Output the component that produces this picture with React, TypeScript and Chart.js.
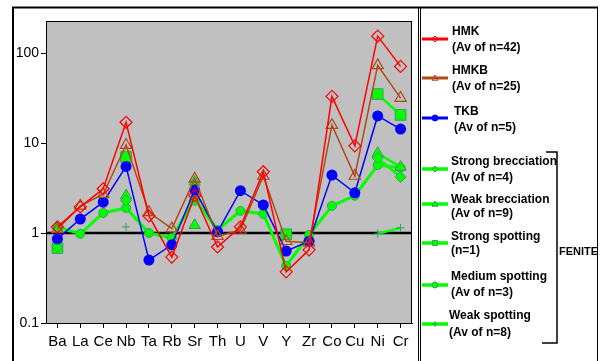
import React, { useEffect, useRef } from 'react';
import { Chart, registerables } from 'chart.js';

Chart.register(...registerables);

const categories = ['Ba', 'La', 'Ce', 'Nb', 'Ta', 'Rb', 'Sr', 'Th', 'U', 'V', 'Y', 'Zr', 'Co', 'Cu', 'Ni', 'Cr'];

const hmk = [1.17, 1.95, 3.1, 17, 1.55, 0.54, 2.6, 0.7, 1.17, 4.8, 0.37, 0.65, 33, 9.3, 154, 71];
const hmkb = [1.1, 2.0, 2.7, 9.5, 1.7, 1.12, 4.0, 0.92, 1.08, 4.3, 0.81, 0.78, 15.8, 4.3, 73, 31.6];
const tkb = [0.86, 1.43, 2.2, 5.5, 0.5, 0.74, 3.0, 1.03, 2.95, 2.05, 0.63, 0.81, 4.4, 2.8, 20, 14.3];
const strongBrecciation = [0.7, null, null, 2.3, null, null, 2.3, null, null, null, null, null, null, null, 6.8, 4.2];
const weakBrecciation = [null, null, null, 2.6, null, null, 3.7, null, null, null, null, null, null, null, 7.7, 5.4];
const weakBrecciationExtra = [null, null, null, null, null, null, 1.22, null, null, null, null, null, null, null, null, null];
const strongSpotting = [0.68, null, null, 7.0, null, null, null, null, null, null, 0.97, null, null, null, 35, 20.5];
const mediumSpotting = [1.17, 0.98, 1.67, 1.9, 1.0, 0.88, 2.4, 1.08, 1.76, 1.63, 0.43, 0.95, 2.0, 2.6, 5.7, 5.3];
const weakSpotting = [null, null, null, 1.17, null, null, null, null, null, null, null, null, null, null, 0.98, 1.14];

const yTickValues = [0.1, 1, 10, 100];
const yTickLabels = ['0.1', '1', '10', '100'];

const legendTitles = ['HMK', 'HMKB', 'TKB', 'Strong brecciation', 'Weak brecciation', 'Strong spotting', 'Medium spotting', 'Weak spotting'];
const legendNotes = ['(Av of n=42)', '(Av of n=25)', '(Av of n=5)', '(Av of n=4)', '(Av of n=9)', '(n=1)', '(Av of n=3)', '(Av of n=8)'];
const groupLabel = 'FENITE';

const RED = '#ff0000';
const BROWN = '#b0481a';
const BLUE = '#0000ff';
const GREEN = '#00ff00';
const GREEN_EDGE = '#3c9c5a';
const FONT = "'Liberation Sans', Arial, sans-serif";

type Marker = { style: string; fill: string; stroke: string; line: string; lw: number };
const legendMarkers: Marker[] = [
  { style: 'rectRot', fill: 'none', stroke: RED, line: RED, lw: 3 },
  { style: 'triangle', fill: 'none', stroke: BROWN, line: BROWN, lw: 3 },
  { style: 'circle', fill: BLUE, stroke: BLUE, line: BLUE, lw: 3 },
  { style: 'rectRot', fill: GREEN, stroke: GREEN_EDGE, line: GREEN, lw: 3.5 },
  { style: 'triangle', fill: GREEN, stroke: GREEN_EDGE, line: GREEN, lw: 3.5 },
  { style: 'rect', fill: GREEN, stroke: GREEN_EDGE, line: GREEN, lw: 3.5 },
  { style: 'circle', fill: GREEN, stroke: GREEN_EDGE, line: GREEN, lw: 3.5 },
  { style: 'cross', fill: 'none', stroke: GREEN_EDGE, line: GREEN, lw: 3.5 },
];
// legend layout: [sampleY, line1Y, line2Y, textX]
const legendRows = [
  [39, 32, 48, 452],
  [78, 71, 87, 452],
  [118, 112, 128, 454],
  [169, 162, 178, 451],
  [204, 200, 214, 451],
  [243, 237, 251, 451],
  [285, 277, 293, 451],
  [324, 316, 333, 449],
];

function drawMarker(ctx: CanvasRenderingContext2D, m: Marker, x: number, y: number, r: number) {
  ctx.save();
  ctx.beginPath();
  if (m.style === 'circle') {
    ctx.arc(x, y, r, 0, Math.PI * 2);
  } else if (m.style === 'rectRot') {
    ctx.moveTo(x, y - r); ctx.lineTo(x + r, y); ctx.lineTo(x, y + r); ctx.lineTo(x - r, y); ctx.closePath();
  } else if (m.style === 'triangle') {
    ctx.moveTo(x, y - r); ctx.lineTo(x + r, y + r * 0.75); ctx.lineTo(x - r, y + r * 0.75); ctx.closePath();
  } else if (m.style === 'rect') {
    ctx.rect(x - r, y - r, 2 * r, 2 * r);
  } else if (m.style === 'cross') {
    ctx.moveTo(x - r, y); ctx.lineTo(x + r, y); ctx.moveTo(x, y - r); ctx.lineTo(x, y + r);
  }
  if (m.fill !== 'none' && m.style !== 'cross') { ctx.fillStyle = m.fill; ctx.fill(); }
  ctx.strokeStyle = m.stroke; ctx.lineWidth = 1; ctx.stroke();
  ctx.restore();
}

const framePlugin = {
  id: 'framePlugin',
  beforeDraw(chart: any) {
    const { ctx, chartArea: a } = chart;
    ctx.save();
    ctx.fillStyle = '#ffffff';
    ctx.fillRect(0, 0, chart.width, chart.height);
    ctx.fillStyle = '#c0c0c0';
    ctx.fillRect(a.left, a.top, a.right - a.left, a.bottom - a.top);
    ctx.restore();
  },
  beforeDatasetsDraw(chart: any) {
    const { ctx, chartArea: a } = chart;
    const y = chart.scales.y.getPixelForValue(1);
    ctx.save();
    ctx.strokeStyle = '#000';
    ctx.lineWidth = 2.5;
    ctx.beginPath();
    ctx.moveTo(a.left, y);
    ctx.lineTo(a.right, y);
    ctx.stroke();
    ctx.restore();
  },
  afterDraw(chart: any) {
    const { ctx, chartArea: a } = chart;
    ctx.save();
    ctx.strokeStyle = '#000';
    ctx.lineWidth = 1;
    ctx.strokeRect(a.left + 0.5, a.top + 0.5, a.right - a.left - 1, a.bottom - a.top);
    // outer frames
    ctx.lineWidth = 2;
    ctx.beginPath();
    ctx.moveTo(12, 7.5); ctx.lineTo(598, 7.5);
    ctx.moveTo(13, 7); ctx.lineTo(13, 361);
    ctx.stroke();
    ctx.lineWidth = 1;
    ctx.beginPath();
    ctx.moveTo(418.5, 8); ctx.lineTo(418.5, 361);
    ctx.moveTo(420.5, 8); ctx.lineTo(420.5, 361);
    ctx.moveTo(597.5, 8); ctx.lineTo(597.5, 361);
    ctx.stroke();
    // legend
    legendRows.forEach((row, i) => {
      const [sy, y1, y2, tx] = row;
      const m = legendMarkers[i];
      ctx.strokeStyle = m.line;
      ctx.lineWidth = m.lw;
      ctx.beginPath();
      ctx.moveTo(422, sy); ctx.lineTo(448, sy);
      ctx.stroke();
      drawMarker(ctx, m, 435, sy, m.style === 'rect' ? 2.5 : 3);
      ctx.fillStyle = '#000';
      ctx.font = `bold 12px ${FONT}`;
      ctx.textBaseline = 'middle';
      ctx.textAlign = 'left';
      ctx.fillText(legendTitles[i], tx, y1);
      ctx.fillText(legendNotes[i], tx, y2);
    });
    // bracket
    ctx.strokeStyle = '#000';
    ctx.lineWidth = 1.5;
    ctx.beginPath();
    ctx.moveTo(546, 152); ctx.lineTo(557, 152); ctx.lineTo(557, 343); ctx.lineTo(542, 343);
    ctx.stroke();
    ctx.font = `bold 11px ${FONT}`;
    ctx.fillStyle = '#000';
    ctx.textBaseline = 'middle';
    ctx.fillText(groupLabel, 559, 252);
    ctx.restore();
  },
};

export default function App() {
  const ref = useRef<HTMLCanvasElement>(null);
  useEffect(() => {
    if (!ref.current) return;
    const greenPt = (style: string, r: number) => ({
      borderColor: GREEN,
      borderWidth: 2.5,
      pointStyle: style,
      pointRadius: r,
      pointBackgroundColor: GREEN,
      pointBorderColor: GREEN_EDGE,
      pointBorderWidth: 1,
    });
    const chart = new Chart(ref.current, {
      type: 'line',
      data: {
        labels: categories,
        datasets: [
          { label: 'HMK', data: hmk, borderColor: RED, borderWidth: 1.5, pointStyle: 'rectRot', pointRadius: 6, pointBackgroundColor: 'rgba(0,0,0,0)', pointBorderColor: RED, pointBorderWidth: 1.2 },
          { label: 'HMKB', data: hmkb, borderColor: BROWN, borderWidth: 1.5, pointStyle: 'triangle', pointRadius: 6.5, pointBackgroundColor: 'rgba(0,0,0,0)', pointBorderColor: BROWN, pointBorderWidth: 1.2 },
          { label: 'TKB', data: tkb, borderColor: BLUE, borderWidth: 1.5, pointStyle: 'circle', pointRadius: 5.5, pointBackgroundColor: BLUE, pointBorderColor: BLUE, pointBorderWidth: 0 },
          { label: 'Strong brecciation', data: strongBrecciation, ...greenPt('rectRot', 5.5) },
          { label: 'Weak brecciation', data: weakBrecciation, ...greenPt('triangle', 6.5) },
          { label: 'Weak brecciation (2)', data: weakBrecciationExtra, ...greenPt('triangle', 6.5) },
          { label: 'Strong spotting', data: strongSpotting, ...greenPt('rect', 7.5) },
          { label: 'Medium spotting', data: mediumSpotting, ...greenPt('circle', 4.5), borderWidth: 3 },
          { label: 'Weak spotting', data: weakSpotting, borderColor: GREEN, borderWidth: 2.5, pointStyle: 'cross', pointRadius: 4, pointBorderColor: GREEN_EDGE, pointBorderWidth: 1 },
        ] as any,
      },
      options: {
        animation: false,
        responsive: false,
        devicePixelRatio: 1,
        spanGaps: false,
        layout: { padding: { left: 0, top: 21, right: 188, bottom: 0 } },
        plugins: { legend: { display: false }, tooltip: { enabled: false } },
        elements: { line: { tension: 0 } },
        scales: {
          x: {
            type: 'category',
            offset: true,
            grid: { drawOnChartArea: false, tickLength: 5, color: '#000', offset: false },
            border: { display: true, color: '#000' },
            ticks: { color: '#000', font: { family: FONT, size: 15 }, padding: 5, maxRotation: 0, autoSkip: false },
            afterFit: (s: any) => { s.height = 38; },
          },
          y: {
            type: 'logarithmic',
            min: 0.1,
            max: 227,
            grid: { drawOnChartArea: false, tickLength: 5, color: '#000' },
            border: { display: true, color: '#000' },
            afterBuildTicks: (s: any) => { s.ticks = yTickValues.map((v) => ({ value: v })); },
            ticks: {
              color: '#000',
              font: { family: FONT, size: 14 },
              padding: 2,
              callback: (v: any) => { const i = yTickValues.indexOf(Number(v)); return i >= 0 ? yTickLabels[i] : ''; },
            },
            afterFit: (s: any) => { s.width = 46; },
          },
        },
      },
      plugins: [framePlugin],
    });
    return () => chart.destroy();
  }, []);
  return (
    <div style={{ position: 'fixed', left: 0, top: 0, width: 600, height: 361, background: '#fff' }}>
      <canvas ref={ref} width={600} height={361} style={{ display: 'block', width: 600, height: 361 }} />
    </div>
  );
}
